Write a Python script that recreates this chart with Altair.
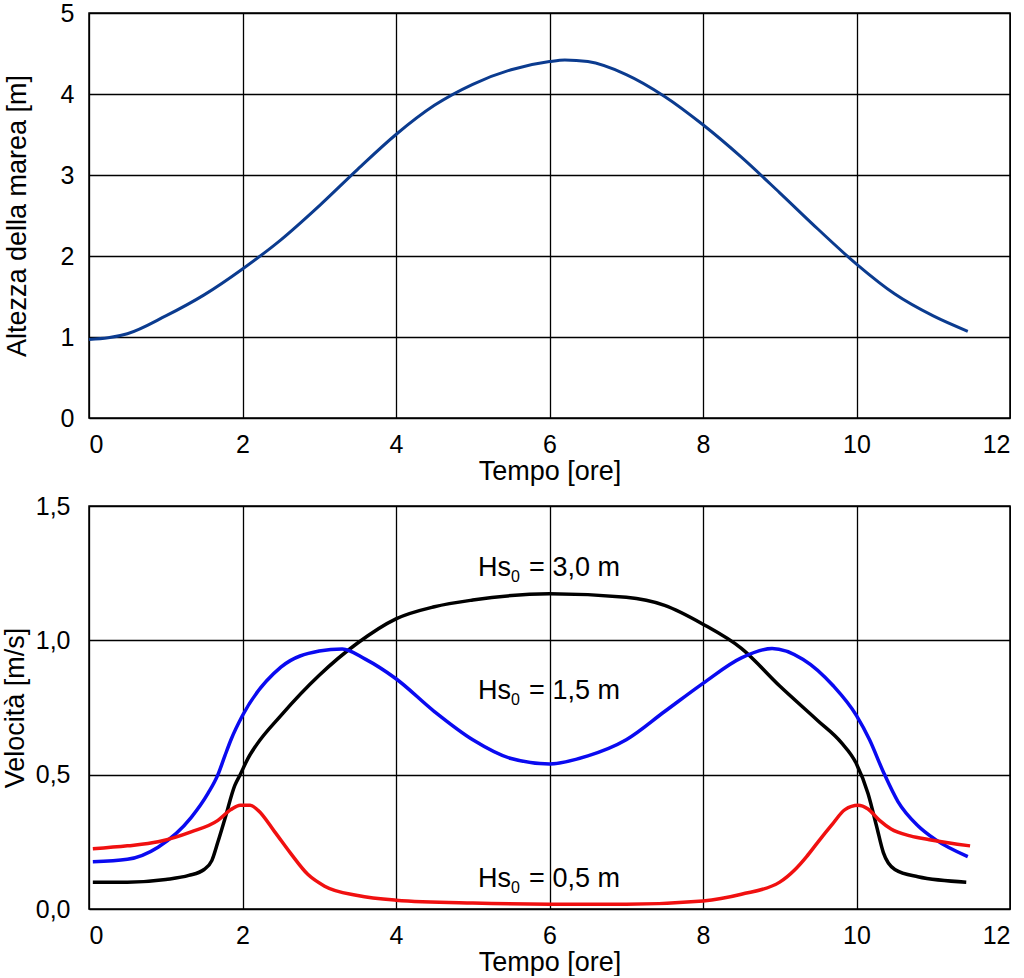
import altair as alt
import pandas as pd

# ---- Top panel: tide height ----
tide_t = [0, 0.25, 0.5, 1.0, 1.5, 2.0, 2.5, 3.0, 3.5, 4.0, 4.5, 5.0, 5.5, 6.0, 6.2,
          6.5, 7.0, 7.5, 8.0, 8.5, 9.0, 9.5, 10.0, 10.5, 11.0, 11.45]
tide_h = [0.97, 0.99, 1.04, 1.26, 1.52, 1.84, 2.2, 2.62, 3.07, 3.50, 3.86, 4.12, 4.30, 4.40, 4.42,
          4.40, 4.24, 3.97, 3.62, 3.22, 2.78, 2.33, 1.90, 1.53, 1.26, 1.07]

# ---- Bottom panel: velocity for three wave heights ----
hs30_t = [0.05, 0.5, 1.0, 1.3, 1.5, 1.6, 1.68, 1.77, 1.9, 1.97, 2.07, 2.18, 2.5, 3.0, 3.5, 4.0,
          4.5, 5.0, 6.0, 7.0, 7.5, 8.0, 8.5, 9.0, 9.5, 9.8, 10.0, 10.15, 10.26, 10.35, 10.5, 10.8, 11.43]
hs30_v = [0.10, 0.10, 0.11, 0.125, 0.147, 0.18, 0.25, 0.335, 0.46, 0.5, 0.56, 0.61, 0.72, 0.87, 0.99, 1.08,
          1.125, 1.15, 1.173, 1.16, 1.13, 1.06, 0.97, 0.83, 0.70, 0.62, 0.54, 0.43, 0.31, 0.21, 0.147, 0.12, 0.10]

hs15_t = [0.05, 0.5, 0.9, 1.33, 1.55, 1.68, 1.77, 1.85, 2.0, 2.5, 3.0, 3.3, 3.6, 4.0, 4.5, 5.0, 5.5,
          6.0, 6.5, 7.0, 7.5, 8.0, 8.5, 8.9, 9.3, 9.7, 10.0, 10.17, 10.35, 10.54, 10.8, 11.02, 11.45]
hs15_v = [0.176, 0.185, 0.23, 0.34, 0.43, 0.50, 0.57, 0.63, 0.72, 0.90, 0.96, 0.968, 0.93, 0.857, 0.735, 0.63, 0.56,
          0.54, 0.57, 0.63, 0.735, 0.84, 0.935, 0.97, 0.93, 0.83, 0.72, 0.63, 0.51, 0.40, 0.31, 0.26, 0.195]

hs05_t = [0.05, 0.5, 0.9, 1.33, 1.68, 1.85, 1.97, 2.1, 2.2, 2.42, 2.63, 2.85, 3.07, 3.5, 4.0, 5.0, 6.0,
          7.0, 8.0, 8.5, 9.0, 9.2, 9.35, 9.5, 9.67, 9.85, 10.02, 10.15, 10.3, 10.45, 10.7, 10.95, 11.48]
hs05_v = [0.224, 0.235, 0.25, 0.287, 0.33, 0.37, 0.386, 0.386, 0.368, 0.287, 0.206, 0.129, 0.085, 0.05, 0.033, 0.022, 0.018,
          0.018, 0.03, 0.055, 0.10, 0.147, 0.195, 0.25, 0.31, 0.37, 0.386, 0.372, 0.33, 0.298, 0.272, 0.258, 0.235]

series_names = ["3,0", "1,5", "0,5"]
series_colors = ["#000000", "#0a0af0", "#f01010"]

# annotation pieces: "Hs" + subscript "0" + "= x,x m"
label_main = ["Hs", "Hs", "Hs"]
label_sub = ["0", "0", "0"]
label_rest = ["= 3,0 m", "= 1,5 m", "= 0,5 m"]
label_t = [5.07, 5.07, 5.07]
label_v = [1.27, 0.81, 0.112]

x_ticks = [0, 2, 4, 6, 8, 10, 12]
top_y_ticks = [0, 1, 2, 3, 4, 5]
bot_y_ticks = [0.0, 0.5, 1.0, 1.5]

FONT = "Liberation Sans"

tide_df = pd.DataFrame({"t": tide_t, "h": tide_h})
vel_df = pd.concat([
    pd.DataFrame({"t": hs30_t, "v": hs30_v, "s": series_names[0]}),
    pd.DataFrame({"t": hs15_t, "v": hs15_v, "s": series_names[1]}),
    pd.DataFrame({"t": hs05_t, "v": hs05_v, "s": series_names[2]}),
], ignore_index=True)
lab_df = pd.DataFrame({"t": label_t, "v": label_v, "main": label_main,
                       "sub": label_sub, "rest": label_rest})

x_axis = alt.Axis(values=x_ticks, format="d", title="Tempo [ore]", labelPadding=14, titlePadding=1)

top = alt.Chart(tide_df).mark_line(color="#0b3b8f", strokeWidth=3, interpolate="monotone").encode(
    x=alt.X("t:Q", scale=alt.Scale(domain=[0, 12], nice=False), axis=x_axis),
    y=alt.Y("h:Q", scale=alt.Scale(domain=[0, 5], nice=False),
            axis=alt.Axis(values=top_y_ticks, format="d", title="Altezza della marea [m]",
                          labelPadding=15, titlePadding=29)),
).properties(width=921, height=405)

bot_x = alt.X("t:Q", scale=alt.Scale(domain=[0, 12], nice=False), axis=x_axis)
bot_y = alt.Y("v:Q", scale=alt.Scale(domain=[0, 1.5], nice=False),
              axis=alt.Axis(values=bot_y_ticks, title="Velocità [m/s]",
                            labelExpr="replace(format(datum.value, '.1f'), '.', ',')",
                            labelPadding=19, titlePadding=6))

lines = alt.Chart(vel_df).mark_line(strokeWidth=3.5, interpolate="monotone").encode(
    x=bot_x, y=bot_y,
    color=alt.Color("s:N", scale=alt.Scale(domain=series_names, range=series_colors), legend=None),
    detail="s:N",
)
t_main = alt.Chart(lab_df).mark_text(align="left", baseline="middle", fontSize=27, font=FONT,
                                     color="black").encode(x=bot_x, y=bot_y, text="main:N")
t_sub = alt.Chart(lab_df).mark_text(align="left", baseline="middle", fontSize=16, font=FONT,
                                    color="black", dx=33, dy=9).encode(x=bot_x, y=bot_y, text="sub:N")
t_rest = alt.Chart(lab_df).mark_text(align="left", baseline="middle", fontSize=27, font=FONT,
                                     color="black", dx=51).encode(x=bot_x, y=bot_y, text="rest:N")

bottom = alt.layer(lines, t_main, t_sub, t_rest).properties(width=921, height=403)

chart = alt.vconcat(top, bottom, spacing=8).properties(
    padding={"left": 0, "top": 0, "right": 0, "bottom": 0},
    background="white",
).configure_view(stroke="black", strokeWidth=1.5).configure_axis(
    grid=True, gridColor="black", gridWidth=1.3, gridOpacity=1,
    domain=False, ticks=False,
    labelFont=FONT, labelFontSize=25, labelColor="black",
    titleFont=FONT, titleFontSize=27, titleColor="black", titleFontWeight="normal",
)

chart.save("out.html", embed_options={"renderer": "svg", "actions": False})
